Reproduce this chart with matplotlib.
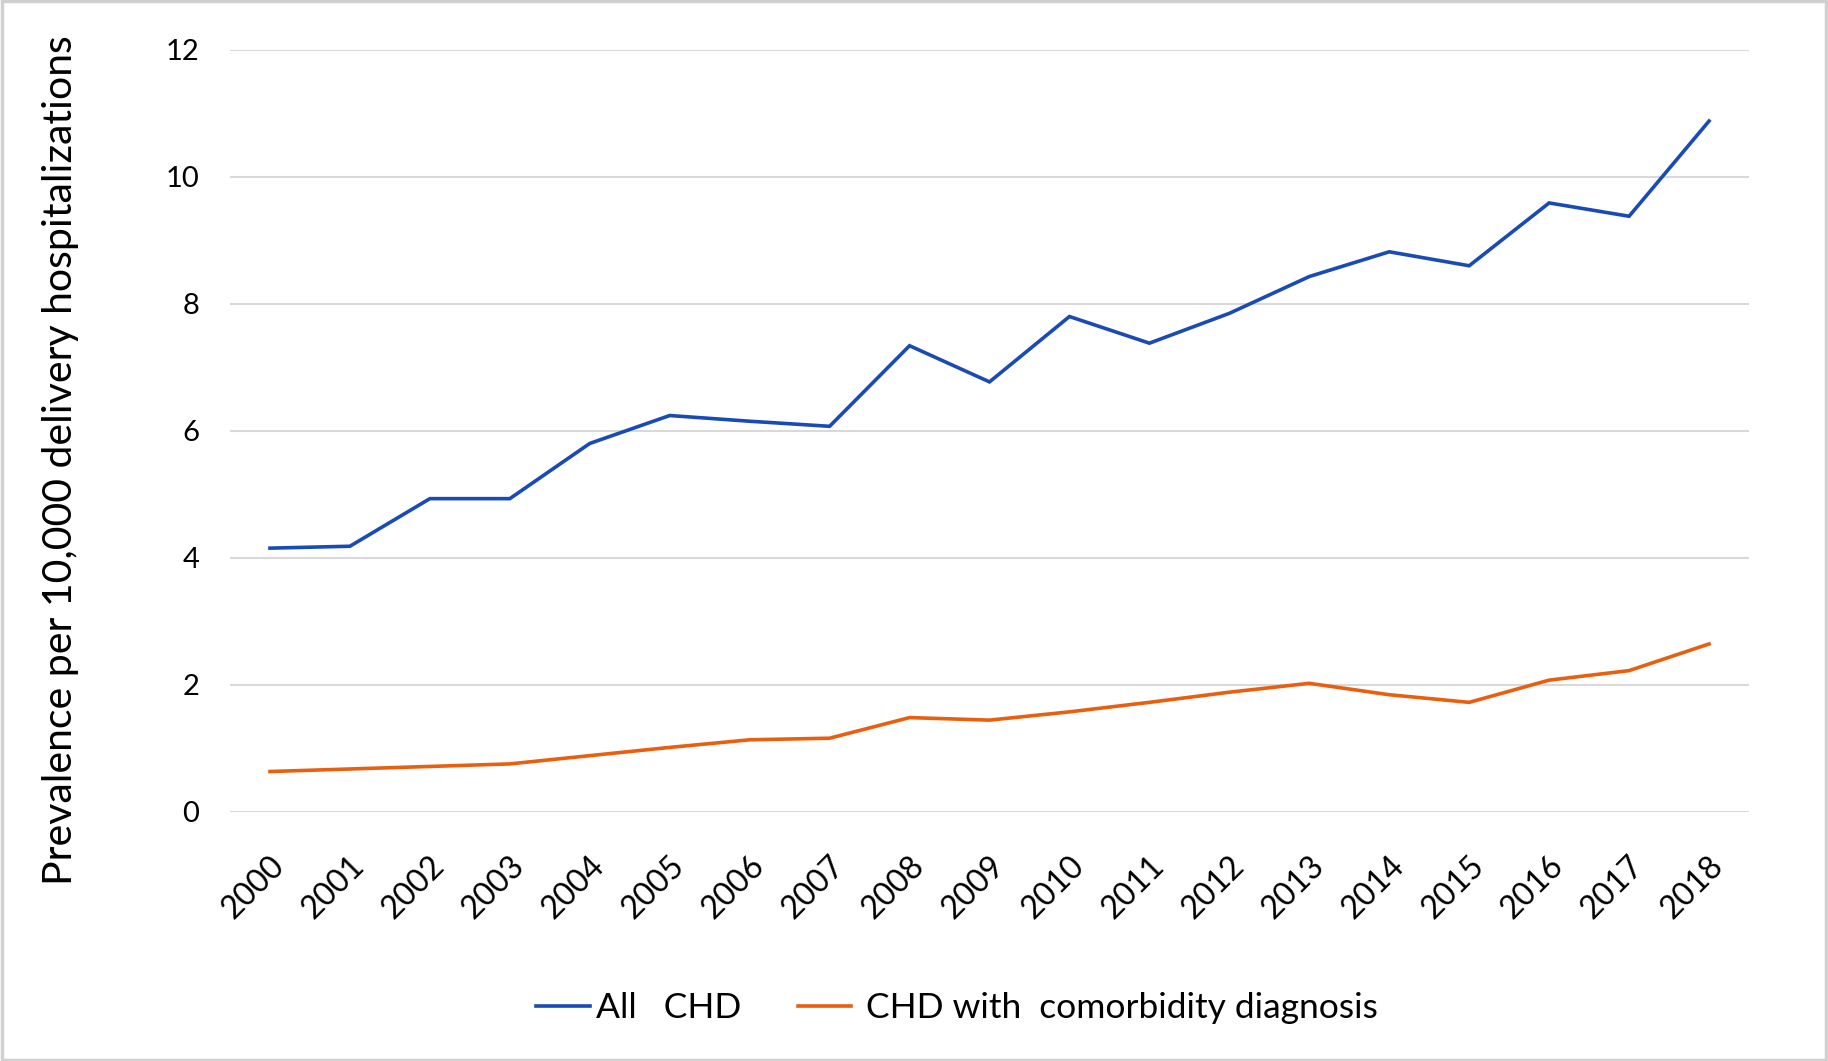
import matplotlib
matplotlib.use("Agg")
import matplotlib.pyplot as plt
from matplotlib.transforms import ScaledTranslation
from matplotlib.patches import Rectangle

years = [str(y) for y in range(2000, 2019)]
all_chd = [4.15, 4.18, 4.93, 4.93, 5.80, 6.24, 6.15, 6.07, 7.34, 6.77, 7.80,
           7.38, 7.85, 8.43, 8.82, 8.60, 9.59, 9.38, 10.88]
chd_comorb = [0.63, 0.67, 0.71, 0.75, 0.88, 1.01, 1.13, 1.155, 1.48, 1.44, 1.57,
              1.72, 1.88, 2.02, 1.84, 1.72, 2.07, 2.22, 2.64]
y_ticks = [0, 2, 4, 6, 8, 10, 12]

plt.rcParams['font.family'] = ['Lato', 'DejaVu Sans']

W, H = 1828, 1061
fig = plt.figure(figsize=(W / 100, H / 100), dpi=100)
ax = fig.add_axes([230 / W, 1 - 811.5 / H, (1749 - 230) / W, (811.5 - 50) / H])

x = list(range(len(years)))
l1, = ax.plot(x, all_chd, color='#1a4bb5', lw=2.6, solid_joinstyle='miter', label='All   CHD')
l2, = ax.plot(x, chd_comorb, color='#e8600f', lw=2.6, solid_joinstyle='miter', label=' CHD with  comorbidity diagnosis')

ax.set_xlim(-0.5, len(years) - 0.5)
ax.set_ylim(0, 12)
ax.set_yticks(y_ticks)
ax.set_yticklabels([str(t) for t in y_ticks])
ax.set_xticks(x)
ax.set_xticklabels(years, rotation=45, ha='right', va='center', rotation_mode='anchor')
ax.grid(axis='y', color='#d9d9d9', lw=1.5)
ax.set_axisbelow(True)
for s in ax.spines.values():
    s.set_visible(False)
ax.tick_params(axis='both', length=0, colors='black')
ax.tick_params(axis='y', pad=22, labelsize=21)
ax.tick_params(axis='x', pad=36, labelsize=23)
for lab in ax.get_xticklabels():
    lab.set_transform(lab.get_transform() + ScaledTranslation(0.10, 0, fig.dpi_scale_trans))

fig.text(61 / W, 1 - 460 / H, 'Prevalence per 10,000 delivery hospitalizations',
         rotation=90, ha='center', va='center', fontsize=29.5)

fig.legend(handles=[l1, l2], loc='center', bbox_to_anchor=(957 / W, 1 - 1008 / H),
           ncol=2, frameon=False, fontsize=25.5, handlelength=1.5, columnspacing=1.6,
           handletextpad=0.17)

fig.add_artist(Rectangle((0.001, 0.001), 0.998, 0.998, transform=fig.transFigure,
                         fill=False, edgecolor='#d0d0d0', lw=2.5))

fig.savefig('out.png', dpi=100)
